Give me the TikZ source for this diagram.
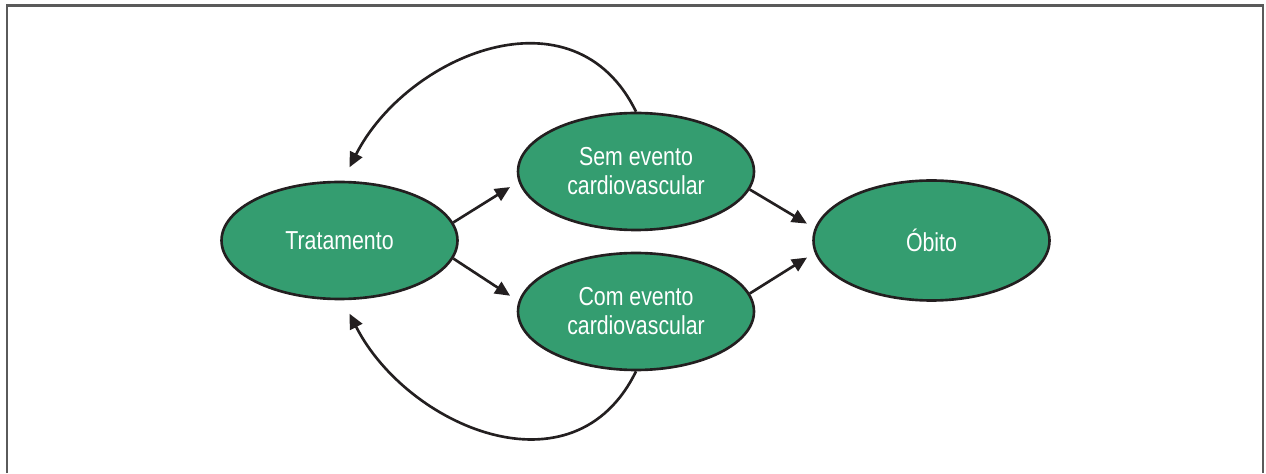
\documentclass[tikz,border=0pt]{standalone}
\usepackage{fontspec}
\setmainfont{Liberation Sans}[FakeStretch=0.82]
\usetikzlibrary{shapes.geometric,arrows.meta}
\definecolor{verde}{RGB}{52,157,112}
\definecolor{moldura}{RGB}{90,90,90}
\definecolor{tinta}{RGB}{35,31,32}

\begin{document}
\begin{tikzpicture}[x=0.02cm, y=0.02cm]
\useasboundingbox (0,0) rectangle (1266,473);
\draw[moldura, line width=0.05cm] (7,0) |- (1263,467.5) -- (1263,0);
\begin{scope}
	\tikzstyle{every node}=[align=center, text=white, font=\fontsize{14.8}{16.5}\selectfont]
	\tikzstyle{estado}=[draw=tinta, ellipse, fill=verde, line width=1.5pt, minimum width=4.72cm, minimum height=2.34cm, inner sep=0pt]
	\tikzstyle{seta}=[draw=tinta, line width=1.5pt, -{Triangle[length=0.3cm, width=0.27cm]}]
	\node[estado] (trat) at (339.5, 232.5) {Tratamento};
	\node[estado] (sem) at (636, 301.5) {Sem evento\\cardiovascular};
	\node[estado] (com) at (636, 161.5) {Com evento\\cardiovascular};
	\node[estado, minimum height=2.4cm] (obito) at (931.5, 232.5) {Óbito};

	\draw[seta, shorten >=0.2cm] (trat.9) -- (sem.185);
	\draw[seta, shorten >=0.2cm] (trat.-9) -- (com.175);
	\draw[seta, shorten >=0.18cm] (sem.-9) -- (obito.174);
	\draw[seta, shorten >=0.18cm] (com.9) -- (obito.186);

	\draw[seta, shorten >=0.3cm] (sem.north) to[out=116, in=63, looseness=1.2] (trat.87);
	\draw[seta, shorten >=0.3cm] (com.south) to[out=-116, in=-63, looseness=1.2] (trat.-87);
\end{scope}
\end{tikzpicture}
\end{document}
